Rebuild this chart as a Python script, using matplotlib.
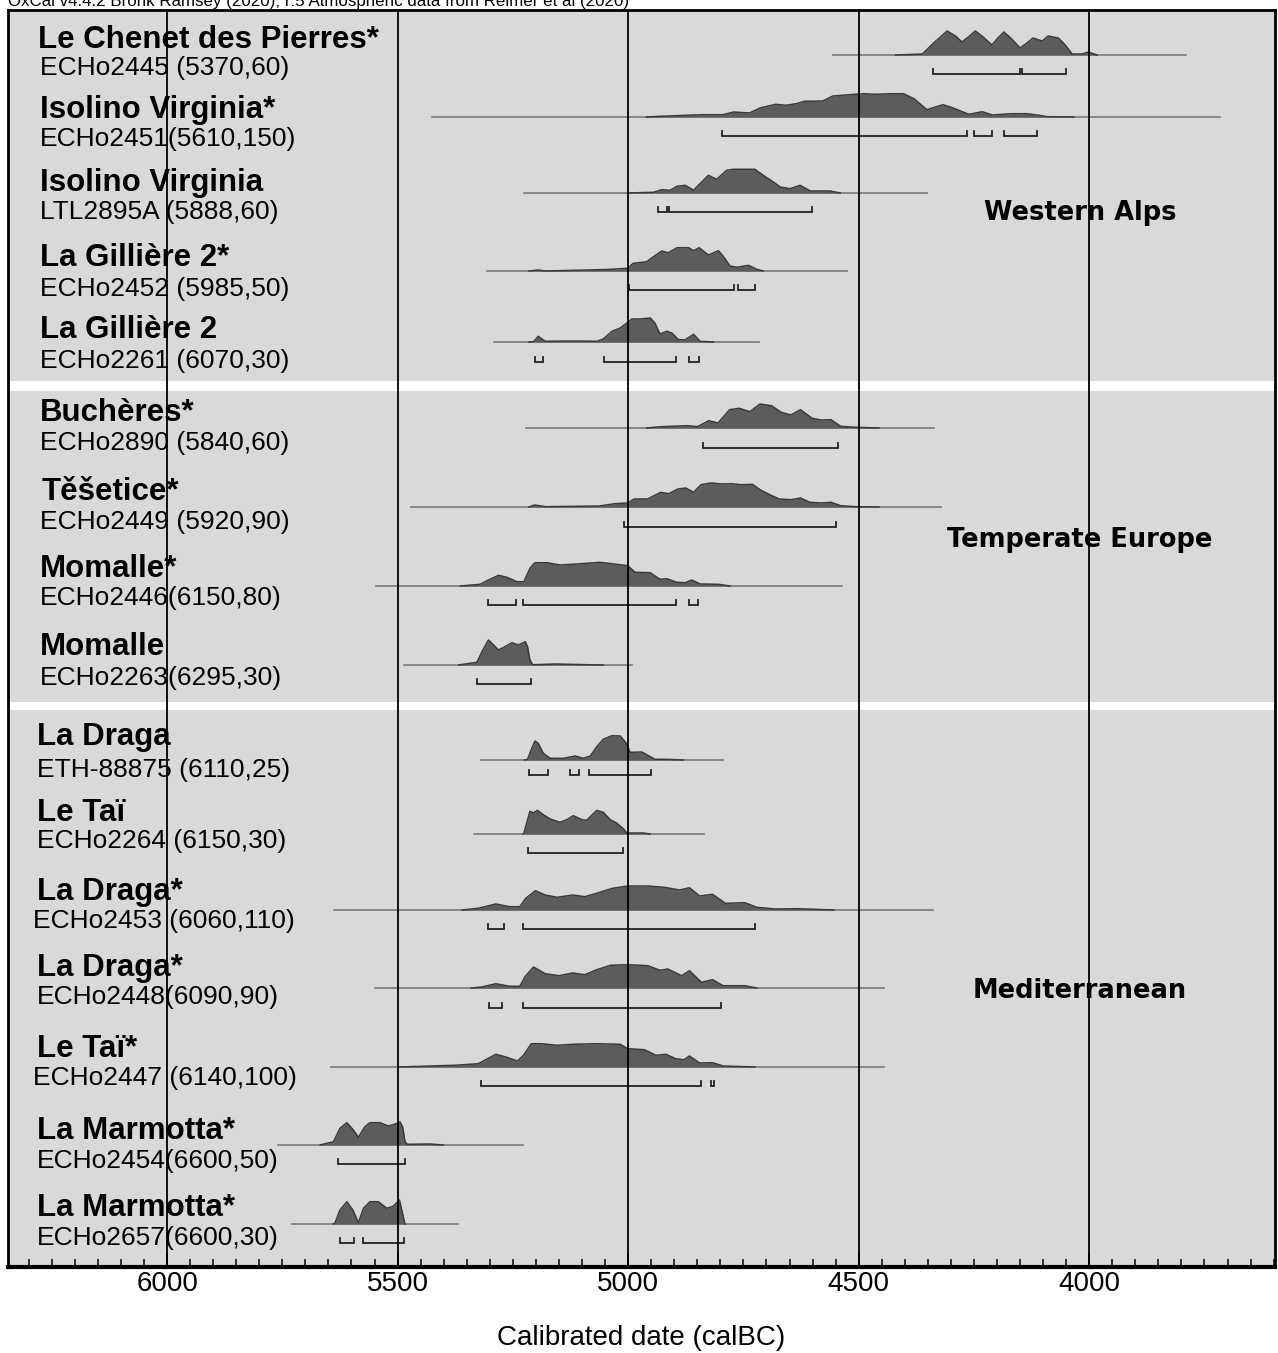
import matplotlib
matplotlib.use("Agg")
import matplotlib.pyplot as plt
from matplotlib.ticker import MultipleLocator

# ---------------- data (calBC years / relative probability) ----------------
names = ["Le Chenet des Pierres*", "Isolino Virginia*", "Isolino Virginia", "La Gillière 2*",
         "La Gillière 2", "Buchères*", "Těšetice*", "Momalle*", "Momalle", "La Draga",
         "Le Taï", "La Draga*", "La Draga*", "Le Taï*", "La Marmotta*", "La Marmotta*"]
codes = ["ECHo2445 (5370,60)", "ECHo2451(5610,150)", "LTL2895A (5888,60)", "ECHo2452 (5985,50)",
         "ECHo2261 (6070,30)", "ECHo2890 (5840,60)", "ECHo2449 (5920,90)", "ECHo2446(6150,80)",
         "ECHo2263(6295,30)", "ETH-88875 (6110,25)", "ECHo2264 (6150,30)", "ECHo2453 (6060,110)",
         "ECHo2448(6090,90)", "ECHo2447 (6140,100)", "ECHo2454(6600,50)", "ECHo2657(6600,30)"]
regions = ["Western Alps", "Temperate Europe", "Mediterranean"]

yrs1 = [4420, 4362, 4335, 4308, 4290, 4276, 4262, 4247, 4230, 4211, 4198, 4185, 4168, 4150, 4135, 4122, 4102, 4089, 4067, 4052, 4037, 4015, 4002, 3983]
den1 = [0, 1, 13, 24, 19, 13, 18, 24, 18, 10, 17, 23, 16, 7, 12, 17, 14, 19, 17, 10, 1, 1, 3, 0]
yrs2 = [4960, 4930, 4839, 4794, 4771, 4737, 4714, 4680, 4658, 4635, 4618, 4578, 4556, 4510, 4488, 4465, 4431, 4403, 4380, 4352, 4317, 4295, 4261, 4232, 4210, 4170, 4136, 4108, 4091, 4034]
den2 = [0, 0.7, 2.3, 2.3, 5, 4, 9, 12.7, 11.7, 13.3, 15.7, 16, 21, 22.7, 23.3, 22.7, 23.3, 23.3, 18.3, 7.3, 12.3, 9, 2.7, 5.3, 2, 3.3, 3.3, 1.7, 0.3, 0]
yrs3 = [5001, 4945, 4927, 4909, 4894, 4876, 4858, 4844, 4826, 4808, 4786, 4772, 4725, 4707, 4685, 4670, 4649, 4627, 4605, 4562, 4540]
den3 = [0, 0.7, 3.3, 2.7, 6.7, 7.7, 2.7, 9.3, 17.7, 13.7, 22.7, 23.7, 23.7, 17.7, 11, 6, 4.3, 7.7, 2, 2, 0]
yrs4 = [5215, 5195, 5180, 5046, 5001, 4989, 4960, 4945, 4927, 4913, 4894, 4869, 4858, 4846, 4826, 4804, 4793, 4779, 4764, 4739, 4721, 4707]
den4 = [0, 1, 0, 1.5, 2.7, 7.7, 9.3, 14.3, 20, 18.3, 23.3, 23.3, 20.3, 23.3, 16, 20.3, 14.3, 5, 3.7, 5.7, 1.7, 0]
yrs5 = [5215, 5205, 5195, 5180, 5111, 5068, 5054, 5035, 5017, 5003, 4992, 4974, 4952, 4942, 4931, 4916, 4905, 4891, 4876, 4858, 4844, 4815]
den5 = [0, 0.3, 5.7, 0.7, 1, 0.7, 3, 10.7, 14, 19, 23, 23, 24, 19, 8, 10.7, 9, 2.3, 2.3, 7.7, 0.7, 0]
yrs6 = [4960, 4929, 4871, 4850, 4825, 4805, 4780, 4759, 4736, 4714, 4689, 4668, 4647, 4626, 4601, 4581, 4560, 4539, 4506, 4456]
den6 = [0, 1.3, 2.3, 1.3, 7.3, 5, 18.3, 19.7, 16.3, 24, 22.3, 15.7, 13, 18.3, 9.7, 8, 8.3, 1.7, 0.7, 0]
yrs7 = [5215, 5203, 5178, 5062, 5029, 5001, 4987, 4958, 4929, 4912, 4892, 4875, 4858, 4842, 4821, 4796, 4776, 4755, 4730, 4714, 4693, 4672, 4647, 4626, 4606, 4581, 4560, 4539, 4506, 4456]
den7 = [0, 2, 0.3, 1, 3.3, 4, 8, 8, 14.7, 13.3, 18, 19, 14.7, 22.3, 24, 23, 23.3, 22.3, 22.7, 17.3, 12.3, 8, 7.3, 9, 4.7, 4, 4.7, 1.3, 0.3, 0]
yrs8 = [5364, 5321, 5303, 5281, 5263, 5241, 5226, 5213, 5202, 5176, 5148, 5111, 5061, 5025, 5001, 4985, 4952, 4931, 4916, 4894, 4876, 4862, 4844, 4804, 4779]
den8 = [0, 1.7, 6, 10.7, 8.7, 4.3, 4.3, 17.7, 23.3, 23.3, 21, 22, 23.7, 21.7, 20.3, 13.7, 13.3, 6.7, 7.3, 3.7, 3.3, 6, 2, 1.7, 0]
yrs9 = [5368, 5328, 5317, 5303, 5292, 5281, 5267, 5252, 5238, 5223, 5218, 5213, 5207, 5155, 5090, 5054]
den9 = [0, 2.7, 13.3, 25, 20, 15, 18.3, 22.3, 20, 23.3, 18, 5, 0.3, 1, 0.3, 0]
yrs10 = [5225, 5218, 5209, 5202, 5195, 5184, 5169, 5140, 5115, 5097, 5082, 5068, 5054, 5035, 5017, 5004, 4996, 4970, 4952, 4942, 4916, 4880]
den10 = [0, 0.7, 11.7, 19, 16.7, 6.7, 1.7, 1.7, 4, 1.7, 4, 13.3, 20.7, 24.3, 24, 16.7, 7.7, 8, 3.3, 0.7, 0.7, 0]
yrs11 = [5228, 5226, 5218, 5213, 5205, 5197, 5184, 5169, 5148, 5133, 5119, 5100, 5090, 5068, 5054, 5039, 5025, 5010, 5003, 4967, 4952]
den11 = [0, 1, 14.3, 22.7, 21, 23.7, 19.3, 15, 11.7, 14.3, 18.3, 14.3, 13.7, 23.7, 21.7, 14.3, 11, 5, 1, 1, 0]
yrs12 = [5360, 5325, 5287, 5257, 5235, 5222, 5201, 5180, 5154, 5120, 5094, 5068, 5034, 5001, 4957, 4922, 4888, 4867, 4845, 4817, 4789, 4747, 4721, 4682, 4631, 4554]
den12 = [0, 1.7, 6, 3.3, 3.3, 11.7, 19.3, 15, 12.7, 15, 13.3, 16.7, 21.7, 24, 24, 22.7, 20, 22.3, 14, 15.7, 6.7, 7.3, 2.7, 1, 1.3, 0]
yrs13 = [5340, 5317, 5287, 5257, 5235, 5223, 5205, 5180, 5150, 5120, 5094, 5068, 5038, 5001, 4957, 4931, 4914, 4884, 4867, 4841, 4817, 4794, 4747, 4721]
den13 = [0, 1, 4.3, 1.7, 1.7, 11.7, 21, 14.3, 12.3, 15, 13.3, 18.3, 22.7, 23.3, 22.3, 17.7, 19, 12.3, 17.3, 5.7, 8.3, 2.3, 2.3, 0]
yrs14 = [5497, 5377, 5325, 5287, 5265, 5240, 5227, 5210, 5188, 5154, 5120, 5068, 5017, 5001, 4965, 4940, 4918, 4897, 4879, 4867, 4845, 4817, 4794, 4725]
den14 = [0, 1.7, 3.3, 12.7, 10, 6, 11.7, 23.3, 23.3, 21.7, 22.7, 23.3, 22.7, 18.3, 17.3, 11.7, 12.7, 8.3, 7.3, 11, 4, 4.3, 1, 0]
yrs15 = [5668, 5639, 5625, 5610, 5596, 5585, 5571, 5560, 5538, 5520, 5505, 5495, 5489, 5484, 5479, 5430, 5401]
den15 = [0, 3.3, 16.7, 22.3, 15, 7.7, 18.3, 22.3, 22.3, 19, 21, 23.3, 18, 3.3, 0.7, 1, 0]
yrs16 = [5640, 5636, 5625, 5610, 5597, 5585, 5574, 5560, 5542, 5523, 5509, 5496, 5491, 5484]
den16 = [0, 0.7, 14, 22.3, 14, 1.3, 15.7, 22.3, 22.3, 15.7, 18, 24, 14, 0]

# probability ranges (95.4%) shown as brackets
ranges = [
    [(4339, 4150), (4146, 4050)],
    [(4796, 4265), (4250, 4211), (4185, 4113)],
    [(4936, 4916), (4911, 4602)],
    [(4999, 4770), (4761, 4725)],
    [(5202, 5185), (5052, 4896), (4868, 4847)],
    [(4838, 4545)],
    [(5010, 4549)],
    [(5305, 5244), (5228, 4896), (4868, 4849)],
    [(5328, 5210)],
    [(5216, 5173), (5126, 5106), (5084, 4950)],
    [(5218, 5012)],
    [(5304, 5270), (5228, 4725)],
    [(5301, 5274), (5227, 4798)],
    [(5319, 4843), (4820, 4813)],
    [(5630, 5485)],
    [(5626, 5594), (5574, 5487)],
]
# extent of each plotted distribution baseline
extents = [(4555, 3790), (5426, 3716), (5226, 4352), (5306, 4526), (5291, 4717),
           (5221, 4336), (5470, 4322), (5547, 4537), (5486, 4991), (5319, 4795),
           (5334, 4835), (5638, 4339), (5548, 4445), (5644, 4445), (5759, 5229), (5729, 5370)]

years_all = [yrs1, yrs2, yrs3, yrs4, yrs5, yrs6, yrs7, yrs8, yrs9, yrs10, yrs11, yrs12, yrs13, yrs14, yrs15, yrs16]
dens_all = [den1, den2, den3, den4, den5, den6, den7, den8, den9, den10, den11, den12, den13, den14, den15, den16]

x_major = [6000, 5500, 5000, 4500, 4000]

# ---------------- layout (pixels) ----------------
W, H = 1278, 1353
AX_L, AX_R, AX_T, AX_B = 8, 1275, 10, 1267
base_y = [55, 117, 193, 271, 342, 428, 507, 586, 665, 760, 834, 910, 988, 1067, 1145, 1224]
brack_y = [74, 136, 212, 290, 362, 448, 527, 605, 684, 775, 853, 929, 1008, 1086, 1164, 1243]
name_x = [38, 40, 40, 40, 40, 40, 42, 40, 40, 37, 37, 37, 37, 37, 37, 37]
code_x = [40, 40, 40, 40, 40, 40, 40, 40, 40, 37, 37, 33, 37, 33, 37, 37]
name_y = [40, 110, 183, 258, 330, 413, 492, 569, 647, 737, 813, 892, 968, 1049, 1131, 1208]
code_y = [68, 139, 212, 289, 361, 443, 522, 598, 678, 770, 841, 921, 997, 1078, 1161, 1238]
region_xy = [(1080, 213), (1080, 540), (1080, 991)]
separators = [(381, 391), (702, 710)]

fig = plt.figure(figsize=(W / 100, H / 100), dpi=100)
fig.patch.set_facecolor("white")
ax = fig.add_axes([AX_L / W, 1 - AX_B / H, (AX_R - AX_L) / W, (AX_B - AX_T) / H])
ax.set_facecolor("#d9d9d9")
ax.set_xlim(6345, 3597)
ax.set_ylim(AX_B, AX_T)

for a, b in separators:
    ax.axhspan(a, b, color="white", lw=0, zorder=1)

for i in range(len(names)):
    y0 = base_y[i]
    x0, x1 = extents[i]
    ax.plot([x0, x1], [y0, y0], color="#7a7a7a", lw=1.2, zorder=2)
    yr = years_all[i]
    d = dens_all[i]
    top = [y0 - v for v in d]
    ax.fill_between(yr, y0, top, color="#5c5c5c", lw=0, zorder=2.5)
    ax.plot(yr, top, color="#3a3a3a", lw=1.1, zorder=2.6)
    yb = brack_y[i]
    for a, b in ranges[i]:
        ax.plot([a, a, b, b], [yb - 5, yb, yb, yb - 5], color="#222222", lw=1.3,
                zorder=2.7, solid_joinstyle="miter")

for xv in x_major:
    ax.axvline(xv, color="black", lw=1.3, zorder=3)

ax.set_yticks([])
ax.xaxis.set_major_locator(MultipleLocator(500))
ax.xaxis.set_minor_locator(MultipleLocator(50))
ax.tick_params(axis="x", which="major", direction="in", length=10, width=1.3, pad=3,
               labelsize=20, labelfontfamily="Liberation Sans")
ax.tick_params(axis="x", which="minor", direction="in", length=5.5, width=1.1)
ax.set_xticks(x_major)
ax.set_xticklabels([str(v) for v in x_major])
for s in ax.spines.values():
    s.set_linewidth(2)
ax.spines["bottom"].set_linewidth(3)

ax.set_xlabel("Calibrated date (calBC)", fontsize=20, family="Liberation Sans")
ax.xaxis.set_label_coords(0.5, (AX_B - 1338) / (AX_B - AX_T))
ax.xaxis.label.set_va("center")

for i in range(len(names)):
    fig.text(name_x[i] / W, 1 - name_y[i] / H, names[i], fontsize=22.5, fontweight="bold",
             family="Liberation Sans", va="center", ha="left", zorder=1.5)
    fig.text(code_x[i] / W, 1 - code_y[i] / H, codes[i], fontsize=19,
             family="Liberation Sans", va="center", ha="left", zorder=1.5)

for lab, (px, py) in zip(regions, region_xy):
    fig.text(px / W, 1 - py / H, lab, fontsize=18.5, fontweight="bold",
             family="DejaVu Sans", va="center", ha="center")

fig.text(8 / W, 1 - 6 / H,
         "OxCal v4.4.2 Bronk Ramsey (2020); r:5 Atmospheric data from Reimer et al (2020)",
         fontsize=12.2, family="Liberation Sans", va="baseline", ha="left")

fig.savefig("out.png", dpi=100)
